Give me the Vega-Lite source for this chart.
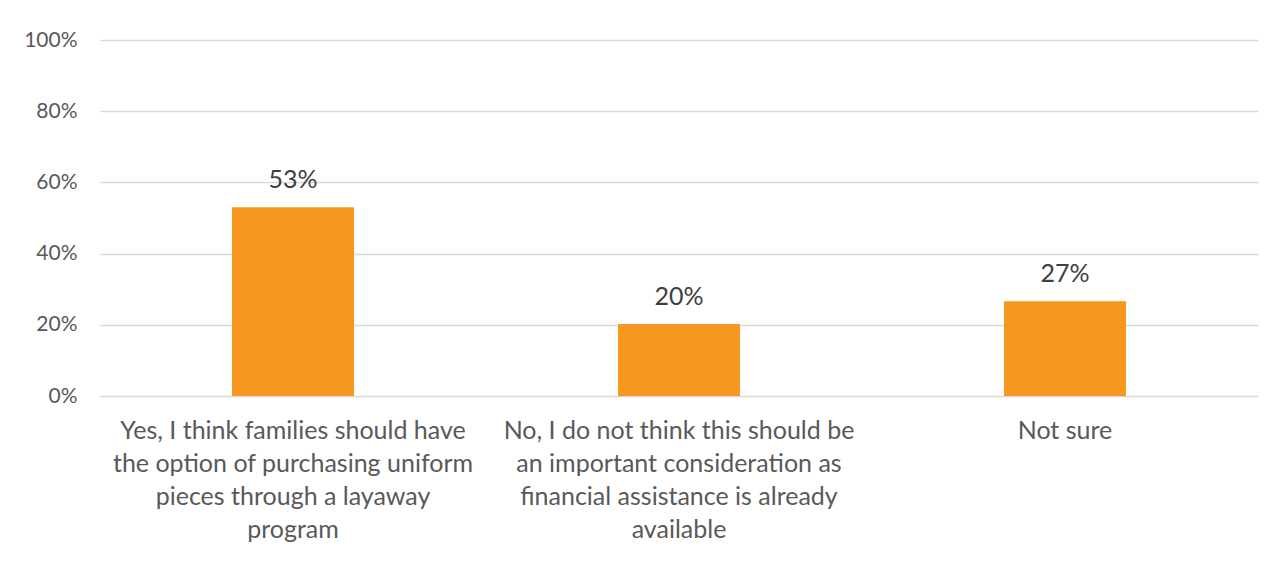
{
  "$schema": "https://vega.github.io/schema/vega-lite/v6.json",
  "width": 1158,
  "height": 356,
  "autosize": {"type": "none"},
  "padding": {"left": 100, "top": 40, "right": 29, "bottom": 165},
  "background": "white",
  "config": {
    "font": "Lato",
    "view": {"stroke": null}
  },
  "data": {
    "values": [
      {"answer": "Yes, I think families should have|the option of purchasing uniform|pieces through a layaway|program", "share": 0.53},
      {"answer": "No, I do not think this should be|an important consideration as|financial assistance is already|available", "share": 0.202},
      {"answer": "Not sure", "share": 0.266}
    ]
  },
  "encoding": {
    "x": {
      "field": "answer",
      "type": "nominal",
      "sort": null,
      "scale": {"paddingInner": 0, "paddingOuter": 0},
      "axis": {
        "title": null,
        "labelAngle": 0,
        "labelExpr": "split(datum.label, '|')",
        "labelFontSize": 25,
        "labelLineHeight": 33,
        "labelColor": "#595959",
        "labelPadding": 22,
        "labelBaseline": "top",
        "labelLimit": 420,
        "ticks": false,
        "domain": false
      }
    },
    "y": {
      "field": "share",
      "type": "quantitative",
      "scale": {"domain": [0, 1]},
      "axis": {
        "title": null,
        "format": ".0%",
        "values": [0, 0.2, 0.4, 0.6, 0.8, 1],
        "labelFontSize": 21,
        "labelColor": "#595959",
        "labelPadding": 23,
        "ticks": false,
        "domain": false,
        "gridColor": "#D9D9D9",
        "gridWidth": 1.5
      }
    }
  },
  "layer": [
    {
      "mark": {"type": "bar", "color": "#F7971F", "width": 122}
    },
    {
      "mark": {"type": "text", "baseline": "alphabetic", "dy": -19, "fontSize": 25, "color": "#404040"},
      "encoding": {
        "text": {"field": "share", "type": "quantitative", "format": ".0%"}
      }
    }
  ]
}
